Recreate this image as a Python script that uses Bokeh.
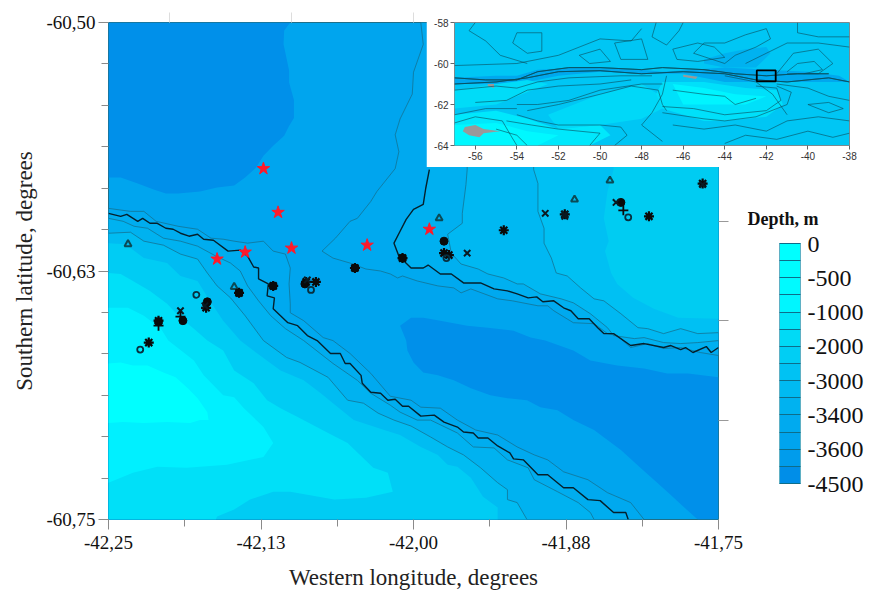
from bokeh.plotting import figure
from bokeh.embed import file_html
from bokeh.resources import INLINE
from bokeh.layouts import column
from bokeh.core.properties import value
from bokeh.models import (Range1d, LinearAxis, FixedTicker, ColorBar, LinearColorMapper)

# ---------- colour scale ----------
depth_levels = [0, -250, -500, -750, -1000, -1500, -2000, -2500, -3000, -3200, -3400, -3500, -3600, -4000, -4500]
labelled_levels = [0, -500, -1000, -2000, -3000, -3400, -3600, -4500]
band_colors = ["#00ffff", "#00fcff", "#00faff", "#00f6ff", "#00e6f8", "#00daf6", "#00cef4", "#00c2f3",
               "#00baf2", "#00b2f0", "#00aaef", "#00a4ee", "#009cec", "#008ee8"]
legend_title = "Depth, m"

# ---------- main map: contours, degrees ----------
deep_nw_lon = [-42.25, -42.101, -42.106, -42.1065, -42.102, -42.102, -42.098, -42.098, -42.102, -42.106, -42.115, -42.123, -42.129, -42.138, -42.147, -42.161, -42.175, -42.193, -42.203, -42.213, -42.226, -42.240, -42.25]
deep_nw_lat = [-60.50, -60.50, -60.504, -60.511, -60.524, -60.530, -60.539, -60.548, -60.552, -60.557, -60.562, -60.567, -60.573, -60.578, -60.582, -60.583, -60.585, -60.586, -60.586, -60.584, -60.581, -60.578, -60.578]

deep_se_lon = [-42.011, -42.002, -41.992, -41.978, -41.956, -41.939, -41.918, -41.904, -41.892, -41.869, -41.855, -41.833, -41.811, -41.792, -41.775, -41.75, -41.75, -41.767, -41.778, -41.792, -41.814, -41.830, -41.852, -41.869, -41.882, -41.896, -41.907, -41.923, -41.937, -41.953, -41.967, -41.980, -41.992, -42.000, -42.005, -42.006]
deep_se_lat = [-60.6525, -60.6485, -60.6485, -60.650, -60.6525, -60.6535, -60.655, -60.6585, -60.660, -60.665, -60.670, -60.6725, -60.674, -60.6765, -60.6765, -60.6785, -60.75, -60.75, -60.744, -60.736, -60.724, -60.715, -60.705, -60.700, -60.695, -60.6935, -60.690, -60.689, -60.6875, -60.684, -60.680, -60.6775, -60.676, -60.671, -60.665, -60.660]

l0_lon = [-42.25, -42.232, -42.221, -42.211, -42.193, -42.177, -42.166, -42.156, -42.147, -42.136, -42.123, -42.115, -42.105, -42.101, -42.102, -42.101, -42.101, -42.090, -42.074, -42.066, -42.052, -42.035, -42.019, -42.002, -41.994, -41.978, -41.964, -41.949, -41.931, -41.915, -41.901, -41.890, -41.877, -41.857, -41.841, -41.822, -41.811]
l0_lat = [-60.5935, -60.595, -60.595, -60.600, -60.6025, -60.604, -60.6085, -60.609, -60.610, -60.611, -60.610, -60.615, -60.6165, -60.6235, -60.6315, -60.6415, -60.646, -60.650, -60.6585, -60.660, -60.6665, -60.6765, -60.688, -60.690, -60.6935, -60.694, -60.700, -60.705, -60.7075, -60.7135, -60.7175, -60.720, -60.726, -60.730, -60.7365, -60.7415, -60.75]

l1_lon = [-42.25, -42.240, -42.235, -42.226, -42.222, -42.216, -42.210, -42.203, -42.197, -42.191, -42.184, -42.177, -42.172, -42.164, -42.152, -42.142, -42.136, -42.131, -42.127, -42.127, -42.119, -42.120, -42.114, -42.115, -42.109, -42.103, -42.095, -42.087, -42.079, -42.068, -42.060, -42.056, -42.052, -42.043, -42.042, -42.035, -42.027, -42.021, -42.015, -42.009, -42.004, -41.994, -41.983, -41.975, -41.964, -41.959, -41.951, -41.947, -41.939, -41.931, -41.921, -41.918, -41.910, -41.898, -41.890, -41.877, -41.869, -41.857, -41.847, -41.836, -41.826, -41.824]
l1_lat = [-60.596, -60.5975, -60.5965, -60.600, -60.5985, -60.601, -60.601, -60.6035, -60.604, -60.606, -60.6075, -60.6065, -60.609, -60.6095, -60.615, -60.6145, -60.6175, -60.623, -60.6235, -60.629, -60.6315, -60.6375, -60.6385, -60.644, -60.6475, -60.651, -60.6525, -60.6575, -60.660, -60.6665, -60.6665, -60.6715, -60.6715, -60.6775, -60.6815, -60.686, -60.6865, -60.690, -60.6895, -60.693, -60.693, -60.698, -60.6975, -60.701, -60.7035, -60.706, -60.7065, -60.709, -60.709, -60.713, -60.7165, -60.7195, -60.720, -60.7275, -60.7275, -60.734, -60.734, -60.740, -60.7405, -60.7465, -60.7465, -60.75]

la_lon = [-42.25, -42.238, -42.229, -42.218, -42.205, -42.191, -42.177, -42.162, -42.150, -42.142, -42.136, -42.127, -42.117, -42.105, -42.090, -42.066, -42.046, -42.035, -42.019, -42.011, -41.997, -41.986, -41.964, -41.951, -41.934, -41.923, -41.906, -41.901, -41.882, -41.865, -41.855, -41.852]
la_lat = [-60.5985, -60.600, -60.6025, -60.6035, -60.6085, -60.610, -60.6125, -60.6175, -60.621, -60.625, -60.6325, -60.640, -60.6475, -60.654, -60.660, -60.6715, -60.680, -60.6865, -60.6925, -60.696, -60.700, -60.700, -60.7065, -60.7135, -60.714, -60.720, -60.724, -60.730, -60.736, -60.7415, -60.7465, -60.75]

lb_lon = [-42.25, -42.232, -42.221, -42.205, -42.191, -42.177, -42.169, -42.161, -42.150, -42.138, -42.123, -42.104, -42.093, -42.070, -42.054, -42.041, -42.029, -42.016, -42.002, -41.986, -41.972, -41.959, -41.945, -41.931, -41.923, -41.923, -41.915, -41.907]
lb_lat = [-60.606, -60.6055, -60.610, -60.612, -60.6165, -60.619, -60.626, -60.6325, -60.6385, -60.6475, -60.660, -60.6685, -60.671, -60.6785, -60.690, -60.6915, -60.6965, -60.700, -60.703, -60.7085, -60.7135, -60.7175, -60.724, -60.7315, -60.735, -60.740, -60.7415, -60.75]

lc_lon = [-42.25, -42.236, -42.221, -42.202, -42.191, -42.177, -42.168, -42.156, -42.142, -42.128, -42.109, -42.090, -42.076, -42.066, -42.049, -42.024, -42.011, -41.994, -41.980, -41.972, -41.964, -41.953, -41.943, -41.931, -41.931]
lc_lat = [-60.611, -60.6115, -60.6185, -60.621, -60.6275, -60.630, -60.639, -60.650, -60.660, -60.6665, -60.675, -60.680, -60.6865, -60.6915, -60.700, -60.705, -60.7075, -60.7135, -60.7175, -60.7225, -60.7235, -60.729, -60.7385, -60.744, -60.75]

ld_lon = [-42.25, -42.240, -42.230, -42.216, -42.202, -42.191, -42.180, -42.169, -42.156, -42.147, -42.131, -42.120, -42.109, -42.095, -42.070, -42.054, -42.043, -42.033, -42.021, -42.017, -42.039, -42.065, -42.087, -42.101, -42.115, -42.134, -42.147, -42.161, -42.162]
ld_lat = [-60.626, -60.6265, -60.630, -60.635, -60.6415, -60.6485, -60.654, -60.660, -60.665, -60.675, -60.6815, -60.690, -60.694, -60.6985, -60.7065, -60.7115, -60.718, -60.724, -60.7265, -60.736, -60.739, -60.740, -60.7375, -60.736, -60.736, -60.740, -60.745, -60.7485, -60.75]

le_lon = [-42.25, -42.234, -42.221, -42.207, -42.201, -42.180, -42.172, -42.156, -42.147, -42.139, -42.123, -42.115, -42.123, -42.153, -42.186, -42.210, -42.230, -42.25]
le_lat = [-60.6435, -60.6435, -60.6475, -60.654, -60.660, -60.670, -60.6775, -60.6875, -60.6885, -60.694, -60.7035, -60.7115, -60.7185, -60.7225, -60.724, -60.7235, -60.7265, -60.7315]

lf_lon = [-42.25, -42.240, -42.230, -42.218, -42.205, -42.195, -42.185, -42.177, -42.169, -42.168, -42.175, -42.183, -42.202, -42.221, -42.238, -42.25]
lf_lat = [-60.6715, -60.671, -60.6725, -60.6725, -60.676, -60.6785, -60.684, -60.689, -60.696, -60.700, -60.700, -60.7015, -60.701, -60.7015, -60.701, -60.7015]

r0_lon = [-41.994, -41.992, -42.000, -42.001, -42.011, -42.015, -42.012, -42.015, -42.030, -42.035, -42.046, -42.052, -42.064, -42.075, -42.066, -42.052, -42.039, -42.027, -42.019, -42.013, -42.009, -41.997, -41.980, -41.967, -41.961, -41.953, -41.931, -41.919, -41.898, -41.890, -41.885, -41.869, -41.852, -41.841, -41.833, -41.822, -41.808, -41.795, -41.781, -41.765, -41.75]
r0_lat = [-60.50, -60.511, -60.525, -60.536, -60.5485, -60.5565, -60.565, -60.5735, -60.585, -60.590, -60.5985, -60.600, -60.6085, -60.615, -60.6185, -60.621, -60.624, -60.625, -60.6265, -60.6285, -60.6275, -60.630, -60.6325, -60.6335, -60.636, -60.634, -60.639, -60.640, -60.6425, -60.6425, -60.645, -60.651, -60.6515, -60.6565, -60.6575, -60.6635, -60.6615, -60.664, -60.6635, -60.666, -60.6675]

r1_lon = [-41.987, -41.987, -41.990, -41.992, -42.000, -42.006, -42.011, -42.016, -42.012, -42.002, -41.992, -41.988, -41.978, -41.969, -41.959, -41.945, -41.934, -41.923, -41.915, -41.906, -41.899, -41.894, -41.885, -41.877, -41.871, -41.865, -41.856, -41.849, -41.844, -41.836, -41.822, -41.811, -41.795, -41.789, -41.781, -41.777, -41.771, -41.760, -41.756, -41.75]
r1_lat = [-60.50, -60.574, -60.5835, -60.5915, -60.594, -60.599, -60.605, -60.611, -60.6175, -60.6235, -60.6235, -60.622, -60.6265, -60.6265, -60.631, -60.631, -60.634, -60.635, -60.6365, -60.6385, -60.638, -60.6405, -60.640, -60.6435, -60.645, -60.649, -60.649, -60.6535, -60.6565, -60.6565, -60.6625, -60.6615, -60.6635, -60.6625, -60.6645, -60.6635, -60.666, -60.663, -60.666, -60.6635]

r2_lon = [-41.956, -41.956, -41.957, -41.960, -41.960, -41.972, -41.969, -41.961, -41.947, -41.939, -41.926, -41.915, -41.910, -41.896, -41.879, -41.869, -41.855, -41.841, -41.836, -41.819, -41.811, -41.795, -41.781, -41.767, -41.75]
r2_lat = [-60.50, -60.574, -60.5815, -60.596, -60.601, -60.6065, -60.616, -60.6215, -60.624, -60.6265, -60.6285, -60.6315, -60.6315, -60.6365, -60.639, -60.641, -60.6465, -60.6535, -60.6575, -60.659, -60.6585, -60.661, -60.6615, -60.661, -60.660]

r3_lon = [-41.9015, -41.9015, -41.898, -41.898, -41.893, -41.893, -41.887, -41.883, -41.874, -41.863, -41.852, -41.844, -41.830, -41.816, -41.808, -41.795, -41.781, -41.767, -41.75]
r3_lat = [-60.50, -60.574, -60.581, -60.595, -60.6035, -60.611, -60.6185, -60.626, -60.6275, -60.6335, -60.639, -60.640, -60.6465, -60.6535, -60.654, -60.6565, -60.654, -60.6565, -60.656]

r4_lon = [-41.836, -41.836, -41.841, -41.844, -41.840, -41.843, -41.838, -41.833, -41.820, -41.803, -41.783, -41.75]
r4_lat = [-60.50, -60.574, -60.585, -60.5985, -60.610, -60.615, -60.626, -60.6315, -60.6385, -60.644, -60.6485, -60.649]

# ---------- stations, degrees ----------
star_lon = [-42.123, -42.111, -42.100, -42.038, -41.987, -42.138, -42.161]
star_lat = [-60.5735, -60.5955, -60.6135, -60.612, -60.604, -60.6155, -60.619]
tri_lon = [-42.234, -42.147, -41.979, -41.868, -41.839]
tri_lat = [-60.6115, -60.633, -60.5985, -60.589, -60.5795]
burst_lon = [-42.115, -42.143, -42.088, -42.080, -42.048, -42.009, -41.975, -41.971, -41.926, -41.876, -41.763, -41.807, -42.170, -42.217, -42.209]
burst_lat = [-60.6325, -60.636, -60.6305, -60.6305, -60.6235, -60.6185, -60.616, -60.617, -60.6045, -60.5965, -60.581, -60.5975, -60.6435, -60.661, -60.650]
dot_lon = [-41.975, -41.830, -42.169, -42.189, -42.115, -42.143, -42.209, -42.048, -42.009, -42.089]
dot_lat = [-60.61, -60.5905, -60.6405, -60.65, -60.6325, -60.636, -60.6505, -60.6235, -60.6185, -60.6315]
x_lon = [-41.892, -41.956, -41.876, -41.834, -41.763, -42.191, -42.087, -41.876, -42.171]
x_lat = [-60.596, -60.616, -60.5975, -60.5905, -60.5815, -60.645, -60.6295, -60.5965, -60.6425]
plus_lon = [-41.828, -42.209, -42.191]
plus_lat = [-60.5945, -60.6525, -60.648]
open_lon = [-41.824, -42.178, -42.224, -42.084, -41.973]
open_lat = [-60.598, -60.637, -60.6645, -60.6345, -60.6185]

# ---------- main axes ----------
x_major = [-42.25, -42.125, -42.0, -41.875, -41.75]
x_major_labels = ["-42,25", "-42,13", "-42,00", "-41,88", "-41,75"]
x_minor = [-42.1875, -42.0625, -41.9375, -41.8125]
x_top = [-42.2, -42.1, -42.0, -41.9, -41.8]
y_major = [-60.75, -60.625, -60.5]
y_major_labels = ["-60,75", "-60,63", "-60,50"]
y_minor = [-60.72917, -60.70833, -60.6875, -60.66667, -60.64583, -60.60417, -60.58333, -60.5625, -60.54167, -60.52083]
y_right = [-60.7, -60.65, -60.6, -60.55]

# ---------- inset, degrees ----------
inset_lon_ticks = [-56, -54, -52, -50, -48, -46, -44, -42, -40, -38]
inset_lat_ticks = [-58, -60, -62, -64]
box_lon = [-42.46, -41.55]
box_lat = [-60.87, -60.34]

inset_fill_lon = [
    [-57, -55, -54, -53, -51, -48, -47, -44, -42, -40, -38.5, -38, -40, -42, -44, -46, -48, -50, -52, -54, -57],
    [-45, -44, -42.5, -41.8, -42, -43, -44, -45],
    [-52.5, -50, -48, -47.2, -47, -48, -50, -52],
    [-57, -55, -53.5, -52.5, -54, -55, -57],
    [-57, -55, -53.5, -52, -50, -49.5, -50.5, -57],
    [-57, -55, -53.5, -52, -53, -57],
    [-47, -45, -43, -41.5, -41.2, -42, -44, -45, -47, -47.3],
    [-46.5, -45, -43.5, -42, -43, -44.5, -46],
]
inset_fill_lat = [
    [-60.7, -60.6, -60.6, -60.3, -60.2, -60.3, -60.4, -60.2, -60.3, -60.4, -60.6, -60.9, -60.9, -60.9, -60.9, -60.5, -60.5, -60.4, -60.6, -61, -61],
    [-60, -60.2, -60.2, -59.5, -59.2, -59.3, -59.5, -59.8],
    [-62.5, -61.5, -61, -61.5, -62.2, -62.7, -63, -63.2],
    [-61.3, -61, -60.8, -61, -61.6, -62, -62.2],
    [-62.5, -62.3, -62.7, -63.2, -63, -63.5, -64, -64],
    [-63, -62.9, -63.3, -63.5, -64, -64],
    [-60.9, -60.9, -61.2, -61.3, -62, -62.6, -62.8, -62.8, -62.2, -61.5],
    [-61, -61.2, -61.5, -61.6, -62, -62, -62],
]
inset_fill_colors = ["#00a8ee", "#00b2f0", "#00d8f8", "#00dcf8", "#00e8fc", "#00f8ff", "#00e0fa", "#00f4ff"]

land_lon = [[-56.5, -56, -55.6, -54.8, -55.6, -55.8, -56.3, -56.6], [-46, -45.3, -45.4, -46], [-55.4, -55.1, -55.1, -55.4]]
land_lat = [[-63.1, -63, -63.2, -63.3, -63.4, -63.6, -63.5, -63.3], [-60.55, -60.65, -60.75, -60.65], [-61, -61, -61.2, -61.1]]

inset_lines_lon = [
    [-57, -55.5, -54, -53, -51.5, -50, -48, -47, -45, -43.5, -42, -40.5, -39],
    [-57, -55, -53.5, -52, -50, -48, -46, -44, -42.5, -41, -39, -38],
    [-57, -55, -54, -53, -51.5, -49, -47.5],
    [-56, -54.5, -53.5, -52, -50, -48.5],
    [-54, -53, -51.5, -50, -48, -47],
    [-53.5, -52, -50, -48.5, -47.2, -47, -46.8],
    [-54, -53, -52, -50, -49, -48.7, -49.3],
    [-54.5, -53.3, -52, -50, -50.5],
    [-57, -55.5, -54],
    [-55, -54, -53.5],
    [-47, -45.5, -44, -42, -41.3, -41.5, -42.5],
    [-47, -45, -44, -42.5, -41, -40.8, -41.5],
    [-46.5, -45, -44, -43.5, -42.5],
    [-46.5, -45, -43.5, -42, -41, -39.5, -38],
    [-44, -43, -41.5, -40, -38.8, -38],
    [-41.5, -40.7, -39.5, -38.8, -39.5, -41],
    [-41, -40.5, -39.7, -39.3, -40.2],
    [-38, -39.5, -41, -42, -43],
    [-40.5, -40.5, -39.5, -38],
    [-44, -43.5, -42.5, -41.8, -42, -43, -44, -45, -45.5, -44],
    [-46.5, -45.3, -44.5, -44, -45.3, -46.3, -46.5],
    [-54, -52.8, -52.8, -53.5, -54.2, -54],
    [-57, -54, -52, -50, -48.5, -48],
    [-51, -50, -49.5, -50.5, -51],
    [-49.3, -48, -47.7, -49, -49.3],
    [-47.3, -47.5, -46.8, -46.2, -46],
    [-56, -56.3, -55.5, -54.8, -53.5],
    [-57, -56, -54.7, -54.3, -54],
    [-46.8, -47, -47.5, -48, -47],
    [-41.5, -40, -39, -38],
    [-40, -39, -38.3, -39, -40],
    [-44, -42.5, -41.7, -41],
]
inset_lines_lat = [
    [-60.7, -60.8, -60.8, -60.4, -60.2, -60.2, -60.3, -60.2, -60.3, -60.5, -60.6, -60.5, -60.5],
    [-61, -60.9, -60.7, -60.4, -60.35, -60.5, -60.4, -60.5, -60.8, -60.9, -60.7, -60.9],
    [-61.3, -61.1, -61.2, -60.9, -60.7, -60.6, -60.6],
    [-61.9, -61.8, -61.3, -61.1, -61, -60.8],
    [-62, -62, -61.8, -61.3, -61, -61],
    [-62.3, -62, -61.5, -61.1, -61.3, -62, -62.3],
    [-62.5, -62.8, -63, -63, -63.1, -63.5, -64],
    [-62.8, -63, -63.2, -63.4, -64],
    [-62.5, -62.2, -62.2],
    [-63.2, -63.5, -64],
    [-62.1, -62.2, -62.5, -62.3, -61.8, -61.2, -61.1],
    [-62.4, -62.7, -62.8, -62.6, -62, -61.4, -61.1],
    [-61.3, -61.5, -61.6, -62, -61.7],
    [-63, -63.2, -63, -63.3, -62.8, -62.6, -62.8],
    [-63.9, -63.5, -63.7, -63.3, -63.6, -63.4],
    [-60.5, -59.5, -59.3, -60, -60.5, -60.5],
    [-60.4, -60, -59.9, -60.3, -60.5],
    [-59.2, -59, -59, -59.5, -60],
    [-58, -58.5, -58.7, -58.7],
    [-60, -59.6, -59.2, -58.8, -58.3, -58.6, -59, -59, -59.5, -60],
    [-59.3, -59, -59.2, -59.7, -59.9, -59.8, -59.3],
    [-58.5, -58.5, -59.4, -59.5, -59, -58.5],
    [-60.1, -60, -59.6, -58.8, -58.9, -58.3],
    [-59.6, -59.3, -59.9, -60, -59.6],
    [-59, -58.8, -59.8, -59.8, -59],
    [-58, -58.7, -59.1, -58.4, -58],
    [-58, -58.4, -58.9, -59.6, -60],
    [-62.9, -62.6, -62.8, -63.5, -64],
    [-60.6, -61.5, -62.4, -63, -63.8],
    [-61, -61.2, -61.6, -61.8],
    [-62, -61.9, -62.2, -62.4, -62],
    [-60.6, -60.9, -61.5, -62.5],
]

SERIF = "Liberation Serif"
ends = ([-42.25], [-60.75])
ne = ([-41.75], [-60.50])

p = figure(width=869, height=590, output_backend="svg", toolbar_location=None,
           x_range=Range1d(-42.25, -41.75), y_range=Range1d(-60.75, -60.5),
           frame_width=610, frame_height=497, x_axis_type=None, y_axis_type=None,
           min_border_left=108, min_border_right=151, min_border_top=22, min_border_bottom=71,
           outline_line_color="#1f6f88", outline_line_width=1, background_fill_color="#00a5ee")
p.frame_align = False
p.grid.visible = False

fills = [
    (deep_nw_lon, deep_nw_lat, "#0090ea"),
    (deep_se_lon, deep_se_lat, "#0090ea"),
    (l0_lon + ends[0], l0_lat + ends[1], "#00a9ef"),
    (l1_lon + ends[0], l1_lat + ends[1], "#00adef"),
    (la_lon + ends[0], la_lat + ends[1], "#00b2f0"),
    (lb_lon + ends[0], lb_lat + ends[1], "#00bcf2"),
    (lc_lon + ends[0], lc_lat + ends[1], "#00ccf4"),
    (ld_lon + ends[0], ld_lat + ends[1], "#00e0f8"),
    (le_lon, le_lat, "#00f0ff"),
    (lf_lon, lf_lat, "#00ffff"),
    (r0_lon + ne[0], r0_lat + ne[1], "#00a9ef"),
    (r1_lon + ne[0], r1_lat + ne[1], "#00b0f0"),
    (r2_lon + ne[0], r2_lat + ne[1], "#00b8f2"),
    (r3_lon + ne[0], r3_lat + ne[1], "#00c0f3"),
    (r4_lon + ne[0], r4_lat + ne[1], "#00ccf2"),
]
p.patches([f[0] for f in fills], [f[1] for f in fills], fill_color=[f[2] for f in fills], line_color=None)

thin_lon = [l0_lon, la_lon, lb_lon, r0_lon, r2_lon, r3_lon]
thin_lat = [l0_lat, la_lat, lb_lat, r0_lat, r2_lat, r3_lat]
p.multi_line(thin_lon, thin_lat, line_color="#14708f", line_width=1, line_alpha=0.75)
p.multi_line([l1_lon, r1_lon[1:]], [l1_lat, r1_lat[1:]], line_color="#05202c", line_width=1.4)

MK = "#0a0a0a"
p.scatter(tri_lon, tri_lat, marker="triangle", size=7, fill_color=None, line_color="#0b4a55", line_width=2)
p.scatter(dot_lon, dot_lat, marker="circle", size=8, fill_color=MK, line_color=MK)
p.scatter(burst_lon, burst_lat, marker="asterisk", size=10, fill_color=None, line_color=MK, line_width=2.2)
p.scatter(x_lon, x_lat, marker="x", size=9, fill_color=None, line_color="#0a1a22", line_width=2)
p.scatter(plus_lon, plus_lat, marker="cross", size=10, fill_color=None, line_color=MK, line_width=1.8)
p.scatter(open_lon, open_lat, marker="circle", size=6, fill_color=None, line_color="#073040", line_width=1.8)
p.scatter(star_lon, star_lat, marker="star", size=13, fill_color="#ff1a2a", line_color="#ff1a2a")


def frame_axis(cls_ticks, minor, overrides=None):
    a = LinearAxis(ticker=FixedTicker(ticks=cls_ticks, minor_ticks=minor), axis_line_color=None,
                   major_tick_in=0, minor_tick_in=0, major_tick_out=10, minor_tick_out=7,
                   major_tick_line_color="#8a8a8a", minor_tick_line_color="#8a8a8a",
                   major_label_text_font=SERIF, major_label_text_font_size="19px",
                   major_label_text_color="#111111", major_label_standoff=3,
                   axis_label_text_font=SERIF, axis_label_text_font_size="23px",
                   axis_label_text_font_style="normal", axis_label_text_color="#222222")
    if overrides:
        a.major_label_overrides = overrides
    return a


bottom = frame_axis(x_major, x_minor, dict(zip(x_major, x_major_labels)))
bottom.axis_label = "Western longitude, degrees"
bottom.major_label_standoff = 6
bottom.axis_label_standoff = 13
left = frame_axis(y_major, y_minor, dict(zip(y_major, y_major_labels)))
left.axis_label = "Southern latitude, degrees"
left.axis_label_standoff = 6
top = frame_axis(x_top, [], {v: " " for v in x_top})
top.major_tick_line_color = "#dddddd"
top.major_label_text_font_size = "1px"
right = frame_axis(y_right, [], {v: " " for v in y_right})
right.major_tick_line_color = "#999999"
right.major_label_text_font_size = "1px"
p.add_layout(bottom, "below")
p.add_layout(left, "left")
p.add_layout(top, "above")
p.add_layout(right, "right")

# colour scale
n_bands = len(band_colors)
idx = list(range(n_bands + 1))
mapper = LinearColorMapper(palette=band_colors[::-1], low=0, high=n_bands)
ordered = depth_levels[::-1]
lab = {i: (str(v) if v in labelled_levels else " ") for i, v in zip(idx, ordered)}
cb = ColorBar(color_mapper=mapper, ticker=FixedTicker(ticks=idx), major_label_overrides=lab,
              width=21, height=240, location=(671, 36), padding=0, margin=0,
              major_tick_in=21, major_tick_out=0, major_tick_line_color="#0e6d8a", major_tick_line_width=1,
              minor_tick_line_color=None, bar_line_color="#5fb0c4", border_line_color=None,
              background_fill_color=None,
              major_label_text_font=SERIF, major_label_text_font_size="24px", major_label_text_color="#111111",
              label_standoff=7)
p.add_layout(cb, "center")

# legend title, in a small figure of its own
mini = figure(width=100, height=26, output_backend="svg", toolbar_location=None,
              x_range=Range1d(0, 1), y_range=Range1d(0, 1), x_axis_type=None, y_axis_type=None,
              min_border=0, outline_line_color=None)
mini.frame_align = False
mini.grid.visible = False
mini.text(x=[0], y=[0.5], text=[legend_title], text_font=value(SERIF), text_font_size="18px",
          text_font_style="bold", text_color="#111111", text_baseline="middle", text_align="left")
mini.styles = {"position": "absolute", "left": "747px", "top": "205px"}

# inset
ins = figure(width=443, height=159, output_backend="svg", toolbar_location=None,
             x_range=Range1d(-57, -38), y_range=Range1d(-64, -58), frame_width=395, frame_height=123,
             x_axis_type=None, y_axis_type=None, min_border_left=28, min_border_right=20, min_border_top=14,
             min_border_bottom=22, background_fill_color="#00c6f4", border_fill_color="#ffffff",
             outline_line_color="#7a8a90")
ins.frame_align = False
ins.grid.visible = False
ins.patches(inset_fill_lon, inset_fill_lat, fill_color=inset_fill_colors, line_color=None)
ins.patches(land_lon, land_lat, fill_color="#999999", line_color=None)
ins.multi_line(inset_lines_lon, inset_lines_lat, line_color="#0a4a5a", line_width=0.7, line_alpha=0.85)
ins.multi_line(inset_lines_lon[:2], inset_lines_lat[:2], line_color="#08505f", line_width=1, line_alpha=0.9)
ins.quad(left=box_lon[0], right=box_lon[1], bottom=box_lat[0], top=box_lat[1], fill_color=None,
         line_color="#000000", line_width=1.8)


def inset_axis(ticks):
    return LinearAxis(ticker=FixedTicker(ticks=ticks), axis_line_color=None, major_tick_in=0, major_tick_out=4,
                      minor_tick_line_color=None, major_tick_line_color="#666666",
                      major_label_overrides={v: str(v) for v in ticks},
                      major_label_text_font="Liberation Sans", major_label_text_font_size="10px",
                      major_label_text_color="#333333", major_label_standoff=2)


ins.add_layout(inset_axis(inset_lon_ticks), "below")
ins.add_layout(inset_axis(inset_lat_ticks), "left")
ins.styles = {"position": "absolute", "left": "426px", "top": "8px"}

page = column(p, ins, mini)
open("out.html", "w").write(file_html(page, INLINE))
